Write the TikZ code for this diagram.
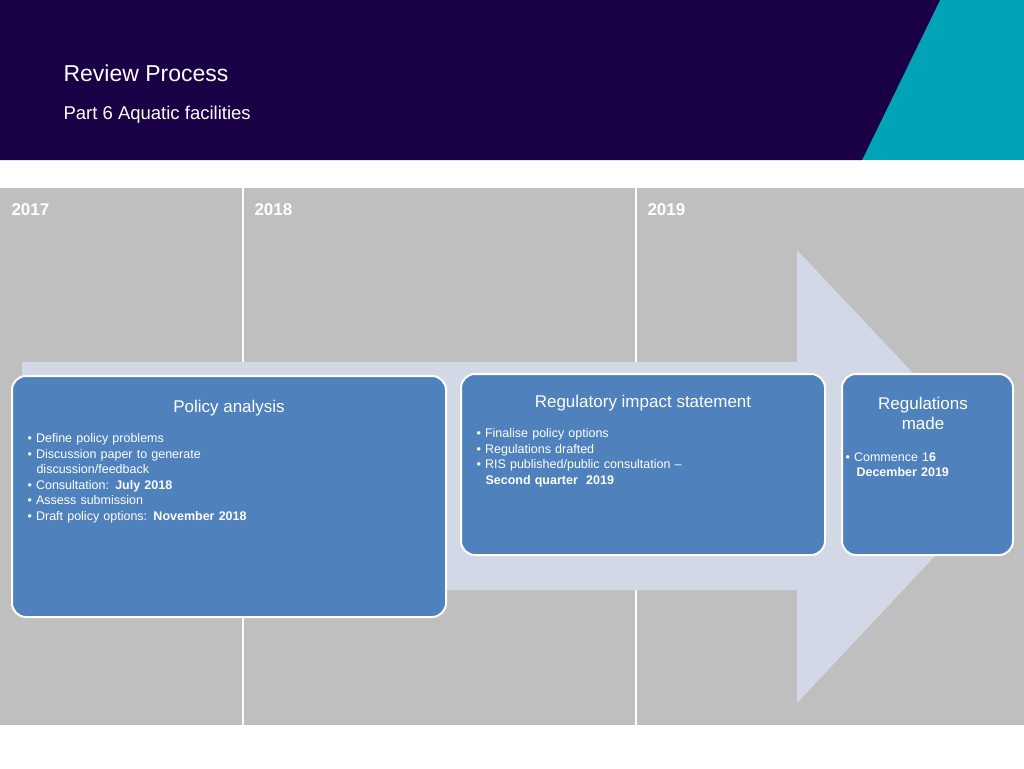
\documentclass[tikz,border=0pt]{standalone}
\usepackage{fontspec}
\setmainfont{Liberation Sans}
\definecolor{navy}{HTML}{1A0044}
\definecolor{teal}{HTML}{00A3B8}
\definecolor{grayb}{HTML}{BFBFBF}
\definecolor{arrowc}{HTML}{D3D8E6}
\definecolor{boxb}{HTML}{4F81BD}
\begin{document}
\begin{tikzpicture}[x=1pt,y=-1pt,
  box/.style={draw=white,line width=2pt,fill=boxb,rounded corners=14pt},
  year/.style={anchor=west,text=white,font=\bfseries\fontsize{17}{20}\selectfont},
  ttl/.style={text=white,font=\fontsize{17}{20}\selectfont,align=center},
  bul/.style={anchor=north west,text=white,font=\fontsize{12.5}{15.5}\selectfont,align=left,text width=#1}]
\useasboundingbox (0,0) rectangle (1024,768);
\fill[white] (0,0) rectangle (1024,768);
\fill[teal] (850,0) rectangle (1024,160);
\fill[navy] (0,0) -- (940,0) -- (862,160) -- (0,160) -- cycle;
\node[anchor=west,text=white,font=\fontsize{23}{27}\selectfont] (t1) at (60,73) {Review Process};
\node[anchor=west,text=white,font=\fontsize{18.5}{22}\selectfont] (t2) at (60,115) {Part 6 Aquatic facilities};
\fill[grayb] (0,188) rectangle (1024,725);
\draw[white,line width=1.5pt] (243,188) -- (243,725) (636,188) -- (636,725);
\node[year] (y1) at (8,210) {2017};
\node[year] (y2) at (251,210) {2018};
\node[year] (y3) at (644,210) {2019};
\fill[arrowc] (22,362) -- (797,362) -- (797,250) -- (1010,476) -- (797,703) -- (797,590) -- (22,590) -- cycle;
\draw[box] (12,376) rectangle (446,617);
\node[ttl] (h1) at (229,408) {Policy analysis};
\node[bul=420pt] (b1) at (24,430) {%
• Define policy problems\\
• Discussion paper to generate\\
\hspace*{9pt}discussion/feedback\\
• Consultation: \textbf{July 2018}\\
• Assess submission\\
• Draft policy options: \textbf{November 2018}};
\draw[box] (461,374) rectangle (825,555);
\node[ttl] (h2) at (643,403) {Regulatory impact statement};
\node[bul=350pt] (b2) at (473,425) {%
• Finalise policy options\\
• Regulations drafted\\
• RIS published/public consultation –\\
\hspace*{9pt}\textbf{Second quarter\ \ 2019}};
\draw[box] (842,374) rectangle (1013,555);
\node[ttl,font=\fontsize{17}{20}\selectfont] (h3) at (923,413) {Regulations\\made};
\node[bul=165pt] (b3) at (842,449) {%
• Commence 1\textbf{6}\\
\hspace*{11pt}\textbf{December 2019}};
\end{tikzpicture}
\end{document}
